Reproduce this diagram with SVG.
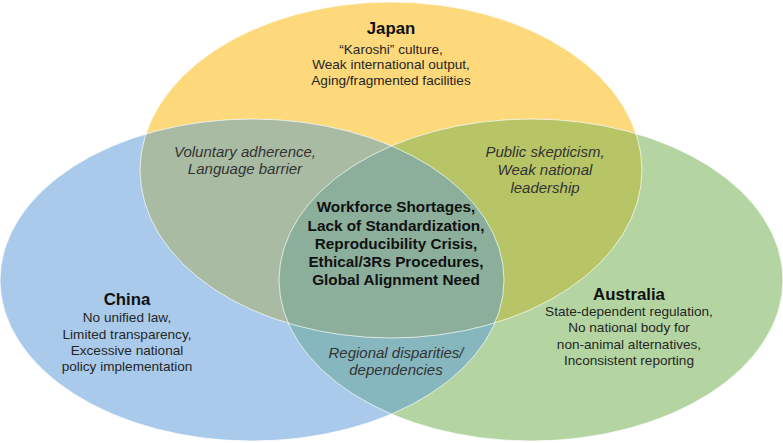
<svg xmlns="http://www.w3.org/2000/svg" width="783" height="443" viewBox="0 0 783 443">
<style>
text{font-family:"Liberation Sans",Arial,sans-serif;text-anchor:middle;fill:#262626}
.t{font-size:16.8px;font-weight:bold;fill:#111}
.b{font-size:13.6px}
.i{font-size:15px;font-style:italic;fill:#333}
.c{font-size:15.3px;font-weight:bold;fill:#111}
.edge{fill:none;stroke:#fff;stroke-width:1;stroke-opacity:0.7}
</style>
<defs>
<ellipse id="eJ" cx="391" cy="170" rx="251" ry="168"/>
<ellipse id="eC" cx="252" cy="280" rx="252" ry="161"/>
<ellipse id="eA" cx="531" cy="280" rx="252" ry="161"/>
<clipPath id="cJ"><use href="#eJ"/></clipPath>
<clipPath id="cC"><use href="#eC"/></clipPath>
<clipPath id="cA"><use href="#eA"/></clipPath>
</defs>
<g id="japan">
<use href="#eJ" fill="#FDD97C"/>
</g>
<g id="china">
<use href="#eC" fill="#A9CAEA"/>
</g>
<g id="australia">
<use href="#eA" fill="#B4D5A1"/>
</g>
<g id="overlaps">
<g clip-path="url(#cJ)"><use href="#eC" fill="#A9BBA3"/></g>
<g clip-path="url(#cJ)"><use href="#eA" fill="#B7C566"/></g>
<g clip-path="url(#cC)"><use href="#eA" fill="#86B6BE"/></g>
<g clip-path="url(#cJ)"><g clip-path="url(#cC)"><use href="#eA" fill="#8BAF9B"/></g></g>
</g>
<g id="edges">
<use href="#eJ" class="edge"/>
<use href="#eC" class="edge"/>
<use href="#eA" class="edge"/>
</g>
<g id="japan-label">
<text class="t" x="391" y="34">Japan</text>
<text class="b" x="391" y="54">“Karoshi” culture,</text>
<text class="b" x="391" y="69.3">Weak international output,</text>
<text class="b" x="391" y="84.5">Aging/fragmented facilities</text>
</g>
<g id="china-label">
<text class="t" x="127" y="305">China</text>
<text class="b" x="127" y="322">No unified law,</text>
<text class="b" x="127" y="338.5">Limited transparency,</text>
<text class="b" x="127" y="355">Excessive national</text>
<text class="b" x="127" y="371">policy implementation</text>
</g>
<g id="australia-label">
<text class="t" x="629" y="300">Australia</text>
<text class="b" x="629" y="316">State-dependent regulation,</text>
<text class="b" x="629" y="332">No national body for</text>
<text class="b" x="629" y="348.5">non-animal alternatives,</text>
<text class="b" x="629" y="364.5">Inconsistent reporting</text>
</g>
<g id="japan-china">
<text class="i" x="245" y="157">Voluntary adherence,</text>
<text class="i" x="245" y="174">Language barrier</text>
</g>
<g id="japan-australia">
<text class="i" x="545" y="157">Public skepticism,</text>
<text class="i" x="545" y="175">Weak national</text>
<text class="i" x="545" y="192.5">leadership</text>
</g>
<g id="china-australia">
<text class="i" x="396" y="358">Regional disparities/</text>
<text class="i" x="396" y="375">dependencies</text>
</g>
<g id="center">
<text class="c" x="396" y="212">Workforce Shortages,</text>
<text class="c" x="396" y="230.5">Lack of Standardization,</text>
<text class="c" x="396" y="248.5">Reproducibility Crisis,</text>
<text class="c" x="396" y="266.5">Ethical/3Rs Procedures,</text>
<text class="c" x="396" y="285">Global Alignment Need</text>
</g>
</svg>
